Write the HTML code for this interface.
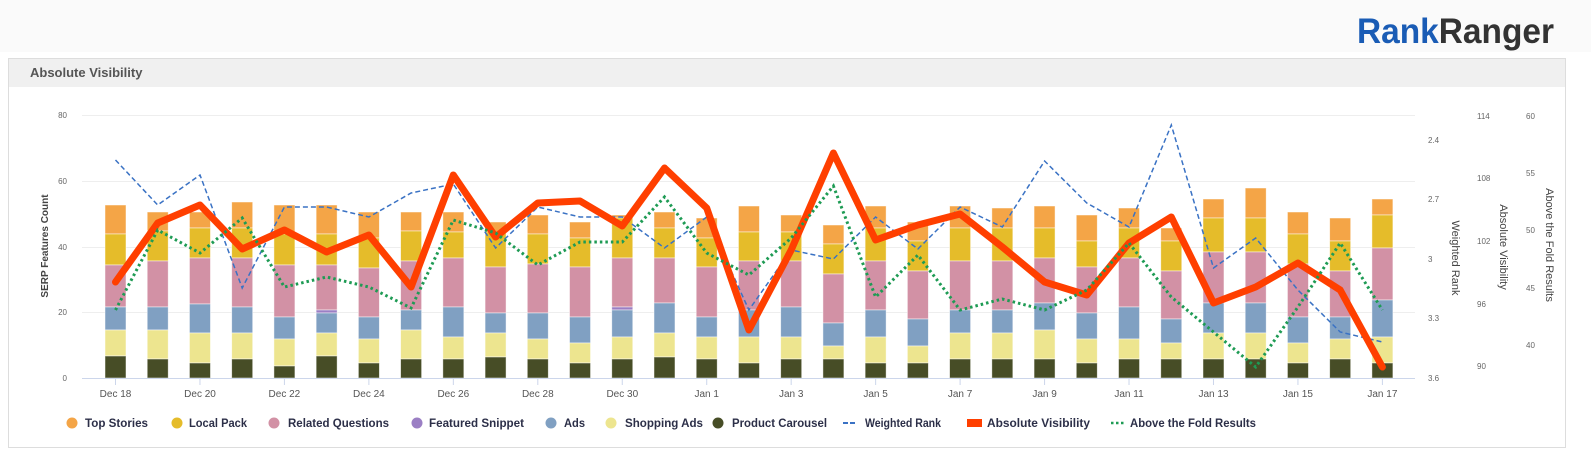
<!DOCTYPE html>
<html><head><meta charset="utf-8"><style>
body{margin:0;width:1591px;height:458px;overflow:hidden;background:#fff;font-family:"Liberation Sans",sans-serif}
</style></head><body>
<svg width="1591" height="458" xmlns="http://www.w3.org/2000/svg" font-family="Liberation Sans, sans-serif">
<rect x="0" y="0" width="1591" height="52" fill="#fafafa"/>
<text x="1357" y="43" font-size="35" font-weight="bold" textLength="197" lengthAdjust="spacingAndGlyphs"><tspan fill="#1a5cb5">Rank</tspan><tspan fill="#333">Ranger</tspan></text>
<rect x="8.5" y="58.5" width="1557" height="389" fill="#fff" stroke="#ddd"/>
<rect x="9" y="59" width="1556" height="28" fill="#f0f0f0"/>
<text x="30" y="77" font-size="13" font-weight="bold" fill="#555">Absolute Visibility</text>
<g stroke="#eee" stroke-width="1">
<line x1="82" x2="1415" y1="115.5" y2="115.5"/><line x1="82" x2="1415" y1="181.5" y2="181.5"/><line x1="82" x2="1415" y1="247.5" y2="247.5"/><line x1="82" x2="1415" y1="312.5" y2="312.5"/>
</g>
<g font-size="8" fill="#666" text-anchor="end">
<text x="67" y="118">80</text><text x="67" y="184">60</text><text x="67" y="250">40</text><text x="67" y="315">20</text><text x="67" y="381">0</text>
</g>
<text transform="translate(48,246) rotate(-90)" font-size="10" font-weight="bold" fill="#444" text-anchor="middle">SERP Features Count</text>
<g font-size="8" fill="#666">
<text x="1428" y="143">2.4</text><text x="1428" y="202">2.7</text><text x="1428" y="262">3</text><text x="1428" y="321">3.3</text><text x="1428" y="381">3.6</text>
<text x="1477" y="119">114</text><text x="1477" y="181">108</text><text x="1477" y="244">102</text><text x="1477" y="307">96</text><text x="1477" y="369">90</text>
<text x="1526" y="119">60</text><text x="1526" y="176">55</text><text x="1526" y="233">50</text><text x="1526" y="291">45</text><text x="1526" y="348">40</text>
</g>
<g font-size="11" fill="#444" text-anchor="middle">
<text transform="translate(1452,258) rotate(90)">Weighted Rank</text>
<text transform="translate(1500,247) rotate(90)">Absolute Visibility</text>
<text transform="translate(1546,245) rotate(90)">Above the Fold Results</text>
</g>
<g id="bars"></g>
<line x1="82" x2="1415" y1="378.5" y2="378.5" stroke="#ccd6eb"/>
<g id="ticks" stroke="#ccd6eb"></g>
<g font-size="10" fill="#555" text-anchor="middle">
<text x="115.5" y="397">Dec 18</text><text x="200" y="397">Dec 20</text><text x="284.4" y="397">Dec 22</text><text x="368.9" y="397">Dec 24</text><text x="453.3" y="397">Dec 26</text><text x="537.8" y="397">Dec 28</text><text x="622.3" y="397">Dec 30</text><text x="706.7" y="397">Jan 1</text><text x="791.2" y="397">Jan 3</text><text x="875.6" y="397">Jan 5</text><text x="960.1" y="397">Jan 7</text><text x="1044.6" y="397">Jan 9</text><text x="1129" y="397">Jan 11</text><text x="1213.5" y="397">Jan 13</text><text x="1297.9" y="397">Jan 15</text><text x="1382.4" y="397">Jan 17</text>
</g>
<polyline id="blue" fill="none" stroke="#3a72c4" stroke-width="1.5" stroke-dasharray="5 3"/>
<polyline id="red" fill="none" stroke="#ff3f00" stroke-width="7" stroke-linejoin="round" stroke-linecap="round"/>
<polyline id="green" fill="none" stroke="#1e9b54" stroke-width="3" stroke-dasharray="2.5 3"/>
<g font-size="12" font-weight="bold" fill="#2c2f48">
<circle cx="72" cy="423" r="5.5" fill="#f4a547"/><text x="85" y="427" textLength="63" lengthAdjust="spacingAndGlyphs">Top Stories</text>
<circle cx="177" cy="423" r="5.5" fill="#e5bc2a"/><text x="189" y="427" textLength="58" lengthAdjust="spacingAndGlyphs">Local Pack</text>
<circle cx="274" cy="423" r="5.5" fill="#d291a5"/><text x="288" y="427" textLength="101" lengthAdjust="spacingAndGlyphs">Related Questions</text>
<circle cx="417" cy="423" r="5.5" fill="#9b7fc4"/><text x="429" y="427" textLength="95" lengthAdjust="spacingAndGlyphs">Featured Snippet</text>
<circle cx="551" cy="423" r="5.5" fill="#80a0c2"/><text x="564" y="427" textLength="21" lengthAdjust="spacingAndGlyphs">Ads</text>
<circle cx="611" cy="423" r="5.5" fill="#ede58f"/><text x="625" y="427" textLength="78" lengthAdjust="spacingAndGlyphs">Shopping Ads</text>
<circle cx="718" cy="423" r="5.5" fill="#474d26"/><text x="732" y="427" textLength="95" lengthAdjust="spacingAndGlyphs">Product Carousel</text>
<line x1="843" x2="857" y1="423" y2="423" stroke="#3a72c4" stroke-width="2" stroke-dasharray="5 2"/><text x="865" y="427" textLength="76" lengthAdjust="spacingAndGlyphs">Weighted Rank</text>
<rect x="967" y="419" width="15" height="8" fill="#ff3f00"/><text x="987" y="427" textLength="103" lengthAdjust="spacingAndGlyphs">Absolute Visibility</text>
<line x1="1111" x2="1125" y1="423" y2="423" stroke="#1e9b54" stroke-width="2.5" stroke-dasharray="2.5 2.5"/><text x="1130" y="427" textLength="126" lengthAdjust="spacingAndGlyphs">Above the Fold Results</text>
</g>
</svg>
<script>
var B=[[205,234,265,307,307,330,356],[212,231,261,307,307,330,359],[212,228,258,304,304,333,363],[202,228,258,307,307,333,359],[205,234,265,317,317,339,366],[205,234,265,310,313,333,356],[212,238,268,317,317,339,363],[212,231,261,310,310,330,359],[212,232,258,307,307,337,359],[222,232,267,313,313,333,357],[215,234,264,313,313,339,359],[222,238,267,317,317,343,363],[215,218,258,307,310,337,359],[212,228,258,303,303,333,357],[218,238,267,317,317,337,359],[206,232,261,310,310,337,363],[215,232,261,307,307,337,359],[225,244,274,323,323,346,359],[206,228,261,310,310,337,363],[222,241,271,319,319,346,363],[206,228,261,310,310,333,359],[208,228,261,310,310,333,359],[206,228,258,303,303,330,359],[215,241,267,313,313,339,363],[208,228,258,307,307,339,359],[228,241,271,319,319,343,359],[199,218,252,303,303,333,359],[188,218,252,303,303,333,359],[212,234,264,317,317,343,363],[218,241,271,317,317,339,359],[199,215,248,300,300,337,363]];
var C=["#f4a547","#e5bc2a","#d291a5","#9b7fc4","#80a0c2","#ede58f","#474d26"];
var R=[282,223,205,249,230,252,235,287,175,237,203,201,226,168,208,330,250,153,240,225,214,247,282,295,243,217,303,287,263,290,367];
var G=[310,230,253,218,287,277,287,308,220,233,265,242,242,197,253,275,238,186,297,255,310,299,310,290,243,297,332,367,307,243,310];
var L=[160,205,175,288,207,207,217,193,184,248,207,217,217,248,217,310,250,259,217,249,207,227,161,203,227,125,268,238,290,332,342];
var ns="http://www.w3.org/2000/svg",g=document.getElementById("bars"),t=document.getElementById("ticks");
function X(i){return 115.5+42.23*i}
for(var i=0;i<31;i++){var b=B[i];for(var k=0;k<7;k++){var y1=b[k],y2=k<6?b[k+1]:378;if(y2-y1<=0)continue;var r=document.createElementNS(ns,"rect");r.setAttribute("x",X(i)-10.5);r.setAttribute("y",y1);r.setAttribute("width",21);r.setAttribute("height",y2-y1);r.setAttribute("fill",C[k]);r.setAttribute("stroke","rgba(255,255,255,0.6)");r.setAttribute("stroke-width","0.8");g.appendChild(r);}
if(i%2==0){var l=document.createElementNS(ns,"line");l.setAttribute("x1",X(i));l.setAttribute("x2",X(i));l.setAttribute("y1",378);l.setAttribute("y2",385);t.appendChild(l);}}
function P(a){return a.map(function(v,i){return X(i).toFixed(1)+","+v}).join(" ")}
document.getElementById("red").setAttribute("points",P(R));
document.getElementById("green").setAttribute("points",P(G));
document.getElementById("blue").setAttribute("points",P(L));
</script>
</body></html>
